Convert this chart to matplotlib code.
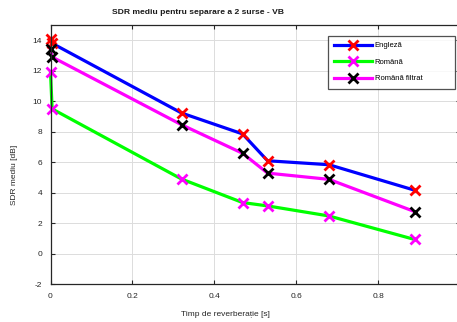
import matplotlib
matplotlib.use("Agg")
import matplotlib.pyplot as plt

# Data
t_reverb = [0.0, 0.004, 0.32, 0.469, 0.530, 0.680, 0.889]
sdr_engleza = [14.1, 13.8, 9.23, 7.86, 6.10, 5.84, 4.17]
sdr_romana = [11.9, 9.5, 4.90, 3.36, 3.14, 2.48, 0.94]
sdr_romana_filtrat = [13.4, 12.9, 8.46, 6.59, 5.29, 4.88, 2.77]

series_labels = ["Engleză", "Română", "Română filtrat"]
x_ticks = [0, 0.2, 0.4, 0.6, 0.8]
x_ticklabels = ["0", "0.2", "0.4", "0.6", "0.8"]
y_ticks = [-2, 0, 2, 4, 6, 8, 10, 12, 14]

plt.rcParams['font.family'] = ['Liberation Sans', 'DejaVu Sans']
plt.rcParams['axes.unicode_minus'] = False

W, H = 457, 322
fig = plt.figure(figsize=(W / 100, H / 100), dpi=100)
ax = fig.add_axes([50.5 / W, 1 - 284.3 / H, (460 - 50.5) / W, (284.3 - 25) / H])

lw = 2.3
ms = 7.5
mew = 2.0
ax.plot(t_reverb, sdr_engleza, color=(0, 0, 1), lw=lw, marker='x', ms=ms,
        mec=(1, 0, 0), mew=mew, label=series_labels[0], clip_on=False)
ax.plot(t_reverb, sdr_romana, color=(0, 1, 0), lw=lw, marker='x', ms=ms,
        mec=(1, 0, 1), mew=mew, label=series_labels[1], clip_on=False)
ax.plot(t_reverb, sdr_romana_filtrat, color=(1, 0, 1), lw=lw, marker='x', ms=ms,
        mec=(0, 0, 0), mew=mew, label=series_labels[2], clip_on=False)

ax.set_xlim(0, 1)
ax.set_ylim(-2, 15)
ax.set_xticks(x_ticks)
ax.set_xticklabels(x_ticklabels)
ax.set_yticks(y_ticks)
ax.grid(True, color='#dcdcdc', lw=0.7)
ax.set_axisbelow(True)
ax.tick_params(direction='in', top=True, right=True, length=3, width=0.8,
               labelsize=6, colors='#262626', pad=6)
for s in ax.spines.values():
    s.set_color('#262626')
    s.set_linewidth(0.9)

leg = ax.legend(loc='upper left', bbox_to_anchor=(328 / W, 1 - 87 / H, 127 / W, 51 / H),
                bbox_transform=fig.transFigure, mode='expand', fontsize=5.5,
                frameon=True, fancybox=False, edgecolor='#262626', handlelength=5.0,
                labelspacing=1.2, borderpad=0.8, handletextpad=0.3,
                borderaxespad=0)
leg.get_frame().set_linewidth(0.9)

fig.text(198 / W, 1 - 13 / H, "SDR mediu pentru separare a 2 surse - VB",
         ha='center', va='center', fontsize=6.1, fontweight='bold', color='#1a1a1a')
fig.text(225 / W, 1 - 315 / H, "Timp de reverberație [s]",
         ha='center', va='center', fontsize=6, color='#262626')
fig.text(14 / W, 1 - 175 / H, "SDR mediu [dB]", rotation=90,
         ha='center', va='center', fontsize=6, color='#262626')

fig.savefig("out.png", dpi=100)
